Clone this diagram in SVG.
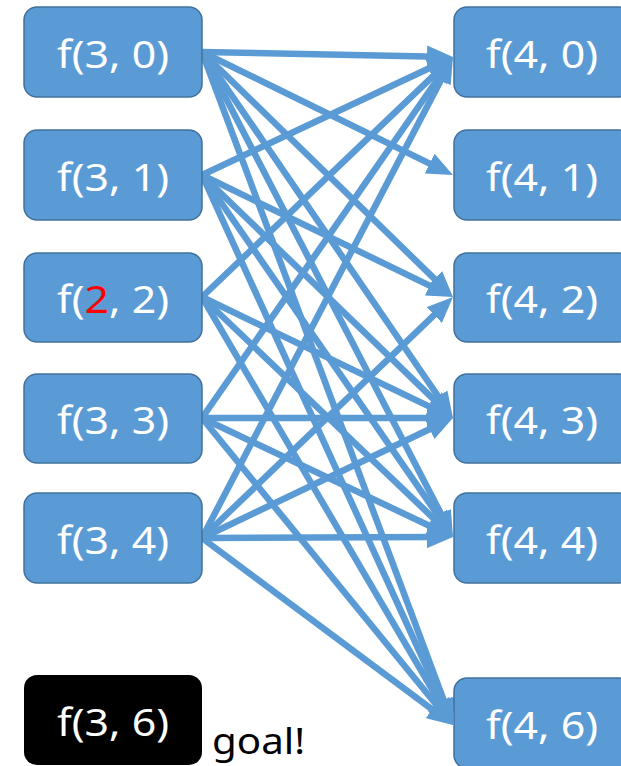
<svg xmlns="http://www.w3.org/2000/svg" width="621" height="766" viewBox="0 0 621 766">
<defs>
<style>
.node rect{fill:#5B9BD5;stroke:#41719C;stroke-width:1.5}
.goal rect{fill:#000000}
.lbl{font-family:"Noto Sans","Open Sans","Liberation Sans",sans-serif;font-size:38px;fill:#FFFFFF;text-anchor:middle}
.edge{stroke:#5B9BD5;stroke-width:6.5;fill:none;marker-end:url(#ah)}
.red{fill:#FF0000}
.note{font-family:"Noto Sans","Open Sans","Liberation Sans",sans-serif;font-size:37px;fill:#000000}
</style>
<marker id="ah" markerUnits="userSpaceOnUse" markerWidth="26" markerHeight="22" refX="12" refY="11" orient="auto" viewBox="0 0 26 22">
<path d="M0,0 L26,11 L0,22 z" fill="#5B9BD5"/>
</marker>
</defs>
<rect width="621" height="766" fill="#FFFFFF"/>
<g id="connectors">
<line class="edge" x1="202" y1="52" x2="439" y2="56.7"/>
<line class="edge" x1="202" y1="52" x2="440.4" y2="168.8"/>
<line class="edge" x1="202" y1="52" x2="443" y2="287.2"/>
<line class="edge" x1="202" y1="52" x2="445.1" y2="406.5"/>
<line class="edge" x1="202" y1="52" x2="446.6" y2="524.6"/>
<line class="edge" x1="202" y1="52" x2="448.1" y2="711.9"/>
<line class="edge" x1="202" y1="175" x2="440.3" y2="63"/>
<line class="edge" x1="202" y1="175" x2="440.4" y2="290.9"/>
<line class="edge" x1="202" y1="175" x2="442.9" y2="408.3"/>
<line class="edge" x1="202" y1="175" x2="445" y2="525.5"/>
<line class="edge" x1="202" y1="175" x2="447.2" y2="712.3"/>
<line class="edge" x1="202" y1="297" x2="442.9" y2="66.7"/>
<line class="edge" x1="202" y1="297" x2="440.4" y2="411.9"/>
<line class="edge" x1="202" y1="297" x2="442.9" y2="527.3"/>
<line class="edge" x1="202" y1="297" x2="445.9" y2="712.9"/>
<line class="edge" x1="202" y1="418" x2="445" y2="68.5"/>
<line class="edge" x1="202" y1="418" x2="439" y2="418"/>
<line class="edge" x1="202" y1="418" x2="440.4" y2="531"/>
<line class="edge" x1="202" y1="418" x2="444.1" y2="714.2"/>
<line class="edge" x1="202" y1="538" x2="446.5" y2="69.4"/>
<line class="edge" x1="202" y1="538" x2="442.9" y2="306.7"/>
<line class="edge" x1="202" y1="538" x2="440.4" y2="424"/>
<line class="edge" x1="202" y1="538" x2="439" y2="537.1"/>
<line class="edge" x1="202" y1="538" x2="441.8" y2="716.6"/>
</g>
<g id="n30" class="node"><rect x="24" y="7" width="178" height="90" rx="13"/><text class="lbl" x="113" y="68" textLength="112" lengthAdjust="spacingAndGlyphs">f(3, 0)</text></g>
<g id="n31" class="node"><rect x="24" y="130" width="178" height="90" rx="13"/><text class="lbl" x="113" y="191" textLength="112" lengthAdjust="spacingAndGlyphs">f(3, 1)</text></g>
<g id="n22" class="node"><rect x="24" y="253" width="178" height="89" rx="13"/><text class="lbl" x="113" y="313" textLength="112" lengthAdjust="spacingAndGlyphs">f(<tspan class="red">2</tspan>, 2)</text></g>
<g id="n33" class="node"><rect x="24" y="374" width="178" height="89" rx="13"/><text class="lbl" x="113" y="434" textLength="112" lengthAdjust="spacingAndGlyphs">f(3, 3)</text></g>
<g id="n34" class="node"><rect x="24" y="493" width="178" height="90" rx="13"/><text class="lbl" x="113" y="554" textLength="112" lengthAdjust="spacingAndGlyphs">f(3, 4)</text></g>
<g id="n36" class="goal"><rect x="24" y="675" width="178" height="90" rx="13"/><text class="lbl" x="113" y="736" textLength="112" lengthAdjust="spacingAndGlyphs">f(3, 6)</text></g>
<g id="n40" class="node"><rect x="454" y="7" width="178" height="90" rx="13"/><text class="lbl" x="542" y="68" textLength="112" lengthAdjust="spacingAndGlyphs">f(4, 0)</text></g>
<g id="n41" class="node"><rect x="454" y="130" width="178" height="90" rx="13"/><text class="lbl" x="542" y="191" textLength="112" lengthAdjust="spacingAndGlyphs">f(4, 1)</text></g>
<g id="n42" class="node"><rect x="454" y="253" width="178" height="89" rx="13"/><text class="lbl" x="542" y="313" textLength="112" lengthAdjust="spacingAndGlyphs">f(4, 2)</text></g>
<g id="n43" class="node"><rect x="454" y="374" width="178" height="89" rx="13"/><text class="lbl" x="542" y="434" textLength="112" lengthAdjust="spacingAndGlyphs">f(4, 3)</text></g>
<g id="n44" class="node"><rect x="454" y="493" width="178" height="90" rx="13"/><text class="lbl" x="542" y="554" textLength="112" lengthAdjust="spacingAndGlyphs">f(4, 4)</text></g>
<g id="n46" class="node"><rect x="454" y="678" width="178" height="90" rx="13"/><text class="lbl" x="542" y="739" textLength="112" lengthAdjust="spacingAndGlyphs">f(4, 6)</text></g>
<text id="goal-note" class="note" x="212" y="754" textLength="93" lengthAdjust="spacingAndGlyphs">goal!</text>
</svg>
